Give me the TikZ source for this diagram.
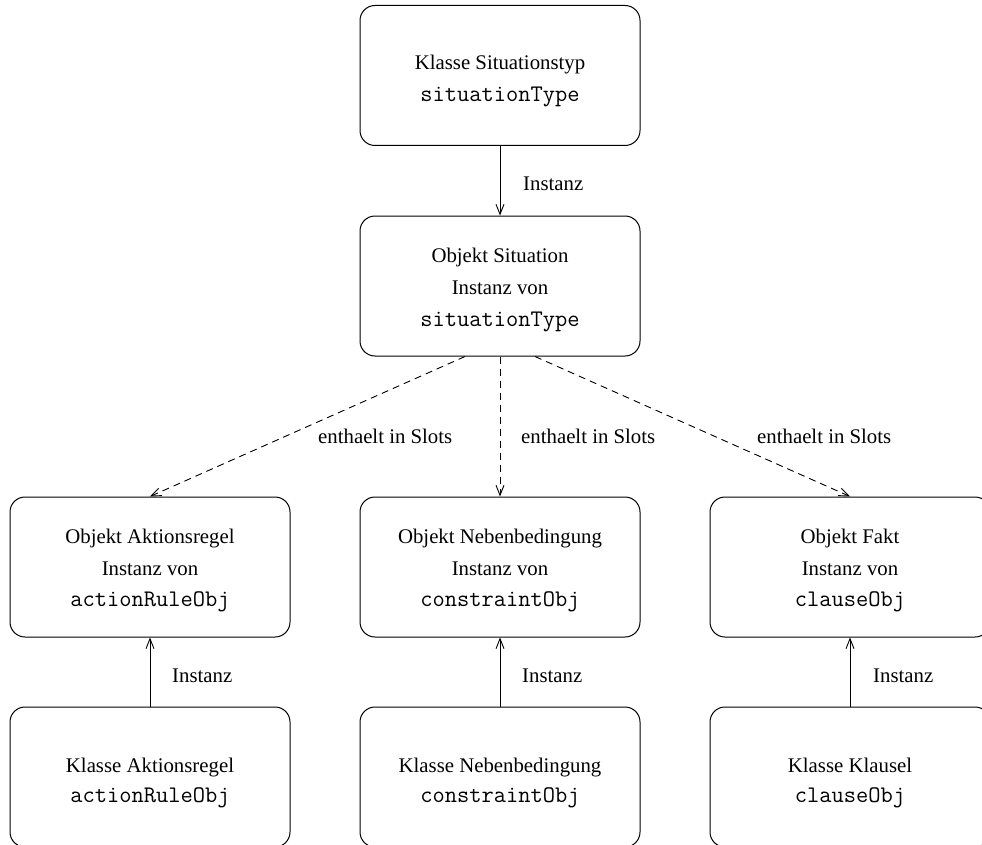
\documentclass[tikz,border=0pt]{standalone}
\usepackage{fontspec}
\setmainfont{Liberation Serif}
\usetikzlibrary{arrows.meta}
% identifiers in a thin serif typewriter face, sized to Courier widths
\newcommand\codeword[1]{{\fontsize{23.8}{30}\ttfamily #1}}
\begin{document}
\begin{tikzpicture}[x=1pt,y=-1pt,
  box/.style={draw, line width=1.0pt, rounded corners=15pt, minimum width=280pt, minimum height=140pt, inner sep=0pt},
  txt/.style={align=center, inner sep=0pt},
  lbl/.style={anchor=base west, inner sep=0pt, font=\fontsize{20.8}{25}\selectfont},
  inst/.style={line width=0.9pt, -{Straight Barb[length=10pt,width=8pt,line width=0.9pt]}},
  slot/.style={inst, dash pattern=on 7pt off 5pt}]
\useasboundingbox (0,0) rectangle (982,845);
\clip (0,0) rectangle (982,845);

% class at the top and its instance
\node[box] (styp) at (500,75.5) {};
\node[txt, font=\fontsize{20.8}{32}\selectfont] (stypT) at (500,81.2)
  {Klasse Situationstyp\\\codeword{situationType}};
\node[box] (sobj) at (500,286) {};
\node[txt, font=\fontsize{20.8}{32}\selectfont] (sobjT) at (500,290.2)
  {Objekt Situation\\Instanz von\\\codeword{situationType}};

% objects held in the slots
\node[box] (aobj) at (150,567) {};
\node[txt, font=\fontsize{20.8}{31.5}\selectfont] (aobjT) at (150,570.7)
  {Objekt Aktionsregel\\Instanz von\\\codeword{actionRuleObj}};
\node[box] (cobj) at (500,567) {};
\node[txt, font=\fontsize{20.8}{31.5}\selectfont] (cobjT) at (500,570.7)
  {Objekt Nebenbedingung\\Instanz von\\\codeword{constraintObj}};
\node[box] (fobj) at (850,567) {};
\node[txt, font=\fontsize{20.8}{31.5}\selectfont] (fobjT) at (850,570.7)
  {Objekt Fakt\\Instanz von\\\codeword{clauseObj}};

% classes of those objects
\node[box] (acls) at (150,777) {};
\node[txt, font=\fontsize{20.8}{30.5}\selectfont] (aclsT) at (150,783.2)
  {Klasse Aktionsregel\\\codeword{actionRuleObj}};
\node[box] (ccls) at (500,777) {};
\node[txt, font=\fontsize{20.8}{30.5}\selectfont] (cclsT) at (500,783.2)
  {Klasse Nebenbedingung\\\codeword{constraintObj}};
\node[box] (fcls) at (850,777) {};
\node[txt, font=\fontsize{20.8}{30.5}\selectfont] (fclsT) at (850,783.2)
  {Klasse Klausel\\\codeword{clauseObj}};

% instance relations
\draw[inst] (styp.south) -- (sobj.north);
\node[lbl] (l0) at (523,190) {Instanz};
\draw[inst] (acls.north) -- (aobj.south);
\node[lbl] (l1) at (172,682) {Instanz};
\draw[inst] (ccls.north) -- (cobj.south);
\node[lbl] (l2) at (522,682) {Instanz};
\draw[inst] (fcls.north) -- (fobj.south);
\node[lbl] (l3) at (873,682) {Instanz};

% slot contents
\draw[slot] ([xshift=-35pt]sobj.south) -- (aobj.north);
\draw[slot] (sobj.south) -- (cobj.north);
\draw[slot] ([xshift=35pt]sobj.south) -- (fobj.north);
\node[lbl] (s1) at (318,443) {enthaelt in Slots};
\node[lbl] (s2) at (521,443) {enthaelt in Slots};
\node[lbl] (s3) at (757,443) {enthaelt in Slots};
\end{tikzpicture}
\end{document}
